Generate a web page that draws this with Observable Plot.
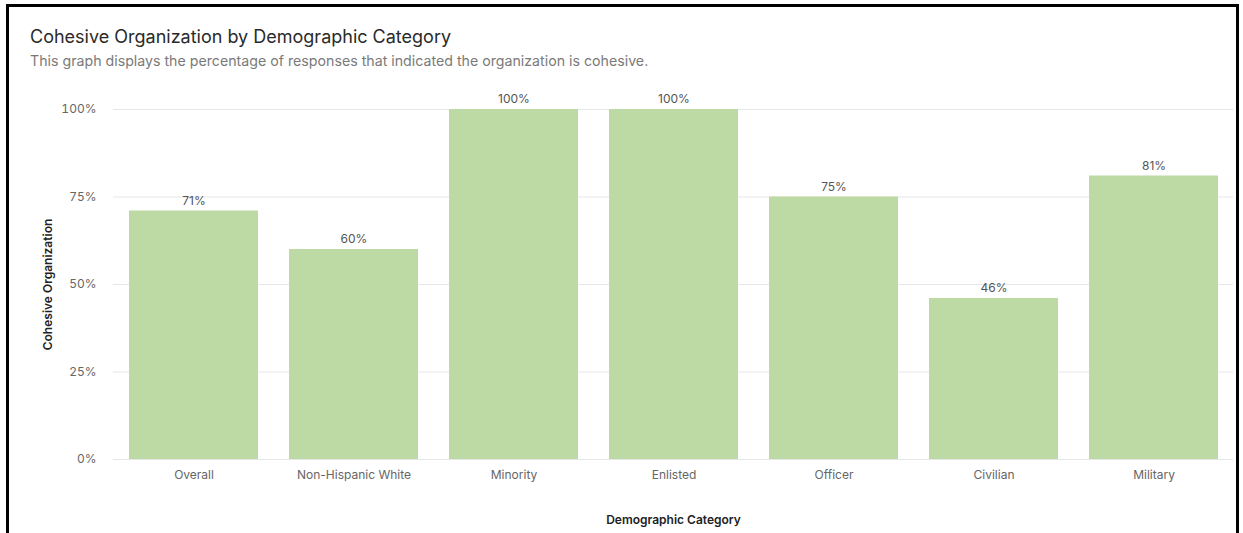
<!DOCTYPE html>
<html>
<head>
<meta charset="utf-8">
<script src="https://cdn.jsdelivr.net/npm/d3@7"></script>
<script src="https://cdn.jsdelivr.net/npm/@observablehq/plot@0.6"></script>
<style>
  html, body { margin: 0; padding: 0; background: #fff; width: 1243px; height: 533px; overflow: hidden; }
  #frame { position: absolute; left: 6px; top: 4px; width: 1227px; height: 540px;
           border-top: 3px solid #000; border-left: 3px solid #000; border-right: 3px solid #000; }
  #title { position: absolute; left: 30px; top: 26px; font-family: Inter, sans-serif; font-size: 18px; color: #2a2a2a; white-space: nowrap; }
  #subtitle { position: absolute; left: 30px; top: 52px; font-family: Inter, sans-serif; font-size: 14.2px; color: #7a7a7a; white-space: nowrap; }
  #chart { position: absolute; left: 0; top: 70px; }
  #chart g[aria-label="x-axis label"] text, #chart g[aria-label="y-axis label"] text { fill: #222; font-weight: 600; }
</style>
</head>
<body>
<div id="frame"></div>
<div id="title">Cohesive Organization by Demographic Category</div>
<div id="subtitle">This graph displays the percentage of responses that indicated the organization is cohesive.</div>
<div id="chart"></div>
<script>
const categories = ["Overall", "Non-Hispanic White", "Minority", "Enlisted", "Officer", "Civilian", "Military"];
const values = [71, 60, 100, 100, 75, 46, 81];
const yTicks = [0, 25, 50, 75, 100];

const data = categories.map((c, i) => ({category: c, value: values[i]}));

const chart = Plot.plot({
  width: 1243,
  height: 463,
  marginLeft: 113,
  marginRight: 10,
  marginTop: 39,
  marginBottom: 74,
  style: {fontFamily: "Inter, sans-serif", fontSize: "12px", color: "#666", background: "transparent"},
  x: {domain: categories, paddingInner: 0.194, paddingOuter: 0.094, label: "Demographic Category",
      labelAnchor: "center", labelOffset: 64, labelArrow: "none", tickSize: 0, tickPadding: 11},
  y: {domain: [0, 100], ticks: yTicks, tickFormat: d => d + "%", label: "Cohesive Organization",
      labelAnchor: "center", labelOffset: 70, labelArrow: "none", tickSize: 0, tickPadding: 17},
  marks: [
    Plot.gridY(yTicks, {stroke: "#e6e6e6", strokeOpacity: 1}),
    Plot.barY(data, {x: "category", y: "value", fill: "#bddaa5"}),
    Plot.text(data, {x: "category", y: "value", text: d => d.value + "%", dy: -10, fill: "#555", fontSize: 12})
  ]
});
document.getElementById("chart").appendChild(chart);
</script>
</body>
</html>
